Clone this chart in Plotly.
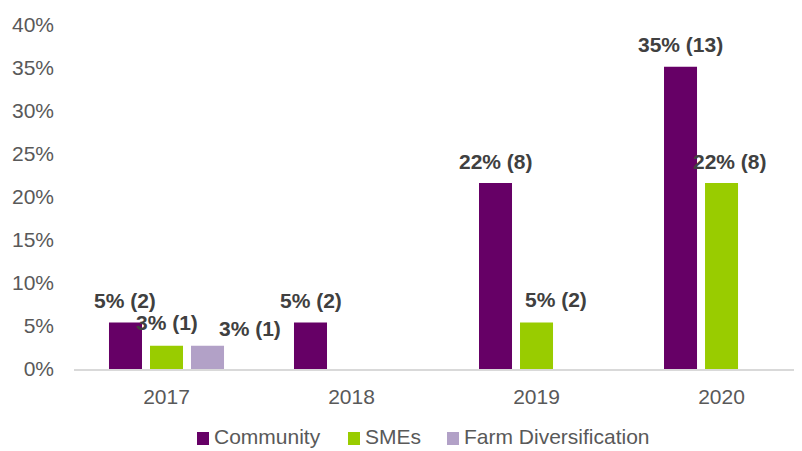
import plotly.graph_objects as go

# Share of projects by theme and year (counts shown in brackets)
years = ["2017", "2018", "2019", "2020"]
total_projects = 37
community = [2, 2, 8, 13]
smes = [1, None, 2, 8]
farm_div = [1, None, None, None]

series = [
    ("Community", community, "#660066"),
    ("SMEs", smes, "#99CC00"),
    ("Farm Diversification", farm_div, "#B2A1C7"),
]

# label nudges (Excel places a few labels off-centre)
label_xshift = [[0, 0, 0, 0], [0, 0, 19, 8], [42, 0, 0, 0]]
label_yshift = [[22, 22, 22, 22], [23, 23, 23, 22], [17, 17, 17, 17]]

FONT = "Liberation Sans, Arial, sans-serif"
PAGE_OFFSET = 8  # default body margin of the html page
W, H = 802 - PAGE_OFFSET, 451 - PAGE_OFFSET
L, R, T, B = 74 - PAGE_OFFSET, 0, 25 - PAGE_OFFSET, 82
BARGAP = 0.335
slot = (1 - BARGAP) / len(series)


def px_to_paper(px, py):
    # screen pixels -> paper coordinates
    px -= PAGE_OFFSET
    py -= PAGE_OFFSET
    return (px - L) / (W - L - R), (H - B - py) / (H - T - B)


fig = go.Figure()
annotations = []
shapes = []
for i, (name, counts, color) in enumerate(series):
    shares = [c / total_projects if c is not None else None for c in counts]
    fig.add_trace(go.Bar(
        x=years,
        y=shares,
        name=name,
        marker=dict(color=color, line=dict(width=0)),
        hoverinfo="skip",
        showlegend=False,
    ))
    for j, (c, s) in enumerate(zip(counts, shares)):
        if c is None:
            continue
        annotations.append(dict(
            x=j + (i - 1) * slot,
            y=s,
            xref="x",
            yref="y",
            text="<b>%d%% (%d)</b>" % (round(s * 100), c),
            showarrow=False,
            yanchor="middle",
            xshift=label_xshift[i][j],
            yshift=label_yshift[i][j],
            font=dict(family=FONT, size=21, color="#404040"),
        ))

# legend drawn by hand so it can sit low against the bottom edge like the original
legend_x = [197, 348, 447]
for (name, _, color), lx in zip(series, legend_x):
    x0, y0 = px_to_paper(lx, 445)
    x1, y1 = px_to_paper(lx + 12, 432)
    shapes.append(dict(type="rect", xref="paper", yref="paper",
                       x0=x0, y0=y0, x1=x1, y1=y1,
                       fillcolor=color, line=dict(width=0)))
    tx, ty = px_to_paper(lx + 15, 437)
    annotations.append(dict(
        x=tx, y=ty, xref="paper", yref="paper",
        text=name, showarrow=False, xanchor="left", yanchor="middle",
        font=dict(family=FONT, size=21, color="#595959"),
    ))

fig.update_layout(
    width=W,
    height=H,
    margin=dict(l=L, r=R, t=T, b=B),
    paper_bgcolor="white",
    plot_bgcolor="white",
    barmode="group",
    bargap=BARGAP,
    bargroupgap=0.195,
    font=dict(family=FONT, size=21, color="#595959"),
    annotations=annotations,
    shapes=shapes,
    showlegend=False,
    xaxis=dict(
        type="category",
        range=[-0.5, 3.435],
        showgrid=False,
        showline=True,
        linecolor="#d9d9d9",
        linewidth=2,
        ticks="",
        ticklabelstandoff=8,
        automargin=False,
        tickfont=dict(family=FONT, size=21, color="#595959"),
    ),
    yaxis=dict(
        range=[0, 0.4],
        dtick=0.05,
        tickformat=".0%",
        showgrid=False,
        showline=False,
        zeroline=False,
        ticks="",
        ticklabelstandoff=19,
        automargin=False,
        tickfont=dict(family=FONT, size=21, color="#595959"),
    ),
)

fig.write_html("out.html")
